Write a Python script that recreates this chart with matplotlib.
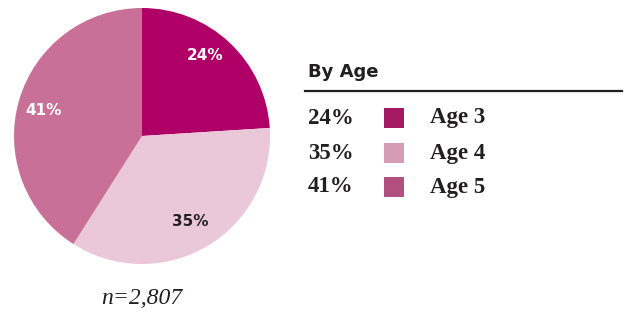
import matplotlib.pyplot as plt
from matplotlib.patches import Rectangle

ages = ["Age 3", "Age 4", "Age 5"]
shares = [24, 35, 41]
pie_colors = ["#AE0066", "#EAC8D9", "#C87098"]
swatch_colors = ["#A31A63", "#D59DB5", "#B14F7E"]
label_colors = ["white", "#231F20", "white"]
n_total = "2,807"

W, H = 640, 315
fig = plt.figure(figsize=(W / 100, H / 100), dpi=100)

# PIE
ax = fig.add_axes([14 / W, (H - 264) / H, 256 / W, 256 / H])
wedges, _ = ax.pie(shares, colors=pie_colors, startangle=90, counterclock=False,
                   radius=1.0)
ax.set_xlim(-1, 1)
ax.set_ylim(-1, 1)
ax.set_aspect("equal")
ax.axis("off")

label_pos = [(0.49, 0.63), (0.38, -0.67), (-0.77, 0.2)]
for (x, y), s, c in zip(label_pos, shares, label_colors):
    ax.text(x, y, f"{s}%", ha="center", va="center", color=c,
            fontsize=11, fontweight="bold", family="DejaVu Sans")

fig.text(142 / W, 1 - 298 / H, f"n={n_total}", ha="center", va="center",
         fontsize=17, style="italic", family="Liberation Serif", color="#231F20")

# LEGEND
fig.text(308 / W, 1 - 72 / H, "By Age", ha="left", va="center",
         fontsize=13, fontweight="bold", family="DejaVu Sans", color="#231F20")
fig.add_artist(plt.Line2D([305 / W, 622 / W], [1 - 91 / H, 1 - 91 / H],
                          color="#231F20", lw=1.6, transform=fig.transFigure))

row_y = [118, 153, 187]
for yy, s, a, c in zip(row_y, shares, ages, swatch_colors):
    fy = 1 - yy / H
    fig.text(308 / W, fy, f"{s}%", ha="left", va="center", fontsize=16.5,
             fontweight="bold", family="Liberation Serif", color="#231F20")
    fig.add_artist(Rectangle((384 / W, fy - 10 / H), 20 / W, 20 / H,
                             facecolor=c, edgecolor="none",
                             transform=fig.transFigure))
    fig.text(430 / W, fy, a, ha="left", va="center", fontsize=16.5,
             fontweight="bold", family="Liberation Serif", color="#231F20")

fig.savefig("out.png", dpi=100, facecolor="white")
